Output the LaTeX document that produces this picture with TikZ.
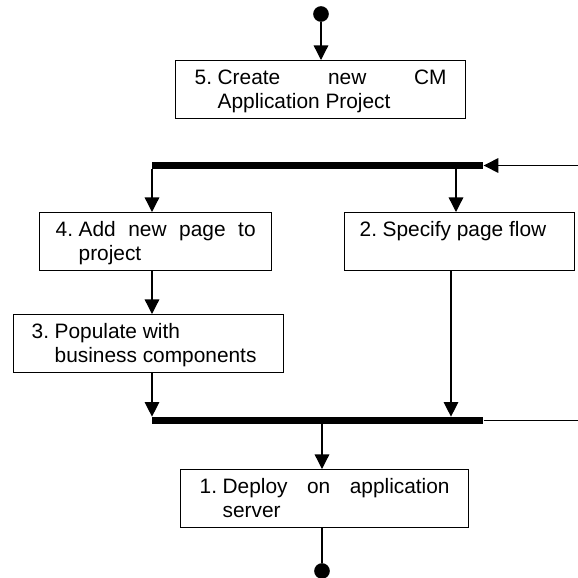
\documentclass[tikz,border=0pt]{standalone}
\usepackage{fontspec}
\setmainfont{Liberation Sans}
\usetikzlibrary{arrows.meta}

% one drawing unit (0.575pt)
\newdimen\pu \pu=0.575pt
% strut giving each line 19 units above and 5 below the baseline
\newcommand\lstrut{\rule[-5\pu]{0pt}{24\pu}}
% numbered activity text with a hanging indent after the number
\newcommand\stepitem[2]{\noindent\hangindent=23\pu\hangafter=1\relax
  \tolerance=10000\hbadness=10000\hyphenpenalty=10000
  \lstrut\makebox[23\pu][l]{#1}#2\lstrut\par}

\begin{document}
\begin{tikzpicture}[x=0.575pt, y=-0.575pt,
  box/.style={draw, line width=0.75pt, anchor=north west, inner ysep=2.875pt,
    align=justify, font=\fontsize{12pt}{13.8pt}\selectfont},
  bar/.style={fill=black, inner sep=0pt, minimum height=4.025pt,
    minimum width=190.325pt, anchor=west},
  dot/.style={circle, fill=black, inner sep=0pt, minimum size=9pt},
  flow/.style={line width=0.75pt, -{Triangle[length=8.4pt, width=8.4pt]}},
  wire/.style={line width=0.75pt}]

\useasboundingbox (0,0) rectangle (578,578);

% start and end markers
\node[dot] (start) at (321,14) {};
\node[dot] (finish) at (322,571) {};

% activities
\node[box, text width=144.9pt, inner xsep=10.925pt] (b5) at (175,60)
  {\stepitem{5.}{Create new CM\linebreak Application Project}};
\node[box, text width=115pt, inner xsep=9.2pt] (b4) at (39,212)
  {\stepitem{4.}{Add new page to\linebreak project}};
\node[box, text width=115pt, inner xsep=8.625pt] (b2) at (344,212)
  {\stepitem{2.}{Specify page flow\newline}};
\node[box, text width=134.55pt, inner xsep=10.35pt] (b3) at (13,314)
  {\stepitem{3.}{Populate with\newline business components}};
\node[box, text width=143.75pt, inner xsep=10.925pt] (b1) at (180,469)
  {\stepitem{1.}{Deploy on application\linebreak server}};

% fork and join bars
\node[bar] (fork) at (152,165.5) {};
\node[bar] (join) at (152,420.5) {};

% helper positions
\coordinate (xl) at (152,0);
\coordinate (x2i) at (456,0);
\coordinate (x2o) at (451,0);
\coordinate (fin) at (578,165.5);
\coordinate (fout) at (578,420.5);

% connectors
\draw[flow] (start) -- (b5.north -| start);
\draw[flow] (fin) -- (fork.east);
\draw[flow] (fork.south -| xl) -- (b4.north -| xl);
\draw[flow] (fork.south -| x2i) -- (b2.north -| x2i);
\draw[flow] (b4.south -| xl) -- (b3.north -| xl);
\draw[flow] (b3.south -| xl) -- (join.north -| xl);
\draw[flow] (b2.south -| x2o) -- (join.north -| x2o);
\draw[wire] (join.east) -- (fout);
\draw[flow] (join.south -| finish) -- (b1.north -| finish);
\draw[wire] (b1.south -| finish) -- (finish);
\end{tikzpicture}
\end{document}
